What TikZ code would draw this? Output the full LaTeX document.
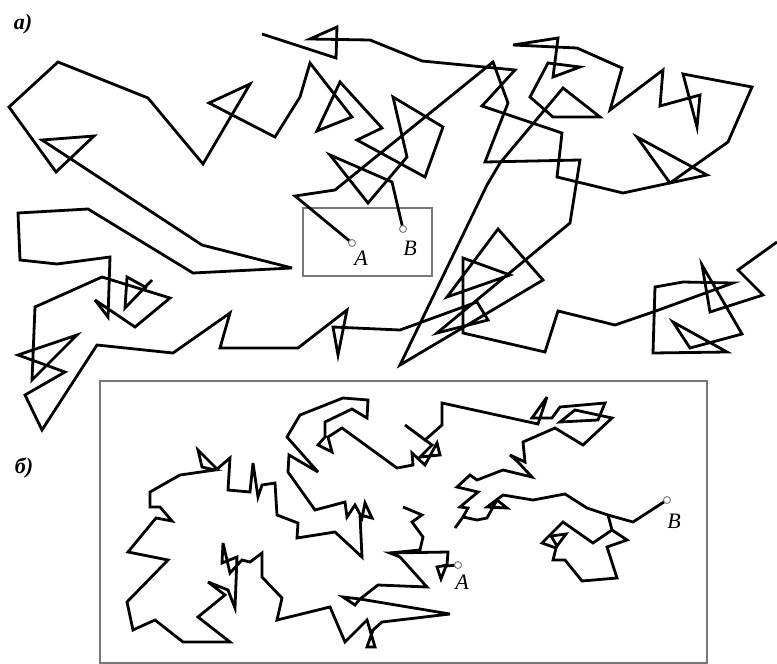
\documentclass[tikz,border=0pt]{standalone}
\usepackage{fontspec}
\setmainfont{Liberation Serif}
\usepackage{tikz}
\definecolor{framegray}{RGB}{120, 120, 120}
\tikzset{
  walk/.style={line width=2.8pt, black, line join=miter, miter limit=6},
  framebox/.style={line width=1.3pt, framegray},
  endpt/.style={circle, draw=framegray, fill=white, line width=0.9pt, minimum size=7pt, inner sep=0pt},
  ptlabel/.style={font=\fontsize{22}{25}\selectfont\itshape, inner sep=0pt},
  partlabel/.style={font=\fontsize{22}{25}\selectfont\bfseries\itshape, inner sep=0pt}
}

\begin{document}
\begin{tikzpicture}[x=1pt, y=-1pt]
    \useasboundingbox (0,0) rectangle (777,664);

    % part a
    \node[partlabel] (parta) at (23,24) {a)};
    \draw[framebox] (303,208) rectangle (432,276);
    \draw[walk] (352,243) -- (295,196) -- (335,190) -- (493,62) -- (508,103) -- (485,162) -- (580,160) -- (570,223) -- (437,333) -- (488,320) -- (477,302) -- (400,330) -- (333,327) -- (338,355) -- (347,310) -- (298,348) -- (220,348) -- (230,313) -- (173,353) -- (97,345) -- (42,430) -- (25,395) -- (65,372) -- (18,355) -- (77,335) -- (32,380) -- (35,307) -- (102,277) -- (170,298) -- (135,327) -- (95,300) -- (108,317) -- (110,257) -- (57,264) -- (20,260) -- (18,213) -- (88,209) -- (193,273) -- (292,268) -- (202,245) -- (42,140) -- (94,136) -- (56,172) -- (9,107) -- (58,62) -- (148,98) -- (203,164) -- (250,84) -- (209,103) -- (275,137) -- (300,97) -- (310,63) -- (352,117) -- (317,131) -- (340,82) -- (382,128) -- (357,140) -- (425,177) -- (443,127) -- (393,97) -- (407,157) -- (368,203) -- (330,155) -- (392,182) -- (403,229);
    \draw[walk] (262,34) -- (336,58) -- (337,27) -- (310,39) -- (370,40) -- (422,61) -- (515,70) -- (482,106) -- (562,133) -- (557,177) -- (623,193) -- (707,175) -- (637,137) -- (670,183) -- (728,142) -- (752,87) -- (683,74) -- (697,127) -- (700,95) -- (660,106) -- (663,70) -- (610,110) -- (622,68) -- (577,48) -- (513,45) -- (558,38) -- (553,77) -- (580,67) -- (548,63) -- (530,97) -- (553,117) -- (600,117) -- (563,88) -- (500,163) -- (487,185) -- (400,365) -- (543,280) -- (498,229) -- (447,297) -- (510,275) -- (463,258) -- (463,333) -- (545,352) -- (558,311) -- (615,325) -- (653,312) -- (733,283) -- (683,282) -- (655,287) -- (653,353) -- (727,352) -- (673,322) -- (690,348) -- (742,334) -- (702,265) -- (710,312) -- (763,295) -- (738,270) -- (777,242);
    \draw[walk] (152,280) -- (125,308) -- (127,277) -- (147,288);
    \node[endpt] (topA) at (352,243) {};
    \node[endpt] (topB) at (403,229) {};
    \node[ptlabel] (labtopA) at (361,258) {A};
    \node[ptlabel] (labtopB) at (410,248) {B};

    % part b
    \node[partlabel] (partb) at (24,468) {б)};
    \draw[framebox] (100,381) rectangle (707,663);
    \draw[walk] (667,500) -- (633,522) -- (608,515) -- (587,508) -- (565,494) -- (533,500) -- (503,495) -- (487,507) -- (507,508) -- (497,500) -- (487,518) -- (477,520) -- (463,517) -- (455,528);
    \draw[walk] (463,517) -- (468,508) -- (460,507) -- (478,492) -- (457,487) -- (470,475) -- (477,480) -- (503,470) -- (532,477) -- (518,462) -- (510,455) -- (525,462) -- (523,442) -- (555,428) -- (583,445) -- (612,418) -- (575,410) -- (560,422) -- (598,420) -- (605,403) -- (560,407) -- (552,418) -- (532,418) -- (547,397) -- (538,424) -- (442,403) -- (442,425) -- (425,440) -- (405,425) -- (432,445) -- (420,457) -- (440,455) -- (437,443) -- (425,465) -- (412,453) -- (413,465) -- (397,468) -- (342,428) -- (328,437) -- (332,452) -- (318,445) -- (325,437) -- (325,422) -- (352,409) -- (367,418) -- (368,400) -- (343,398) -- (300,415) -- (287,437) -- (318,472) -- (289,455) -- (288,472) -- (315,510) -- (345,502) -- (347,517) -- (355,505) -- (362,518) -- (365,503) -- (372,518) -- (360,515) -- (362,557) -- (335,532) -- (297,538) -- (298,523) -- (277,515) -- (275,483) -- (262,485) -- (258,497) -- (253,463) -- (250,492) -- (228,490) -- (230,458) -- (217,469) -- (198,450) -- (202,467) -- (215,470) -- (180,475) -- (150,492) -- (150,507) -- (160,507) -- (172,521) -- (156,518) -- (128,552) -- (168,560) -- (127,602) -- (133,630) -- (155,620) -- (183,642) -- (230,642) -- (198,617) -- (225,595) -- (208,582) -- (228,590) -- (235,608) -- (237,557) -- (222,563) -- (223,543) -- (230,573) -- (242,560) -- (250,562) -- (262,553) -- (262,577) -- (282,598) -- (277,620) -- (330,607) -- (345,642) -- (367,620) -- (375,647) -- (367,647) -- (373,630) -- (382,622) -- (450,614) -- (360,599) -- (343,597) -- (355,605) -- (360,599) -- (378,585) -- (427,587) -- (400,557) -- (390,553) -- (448,552) -- (447,565) -- (437,567) -- (441,579) -- (446,566) -- (458,565);
    \draw[walk] (390,553) -- (420,550) -- (423,537) -- (412,522) -- (422,515) -- (403,507);
    \draw[walk] (608,515) -- (612,530) -- (627,540) -- (607,547) -- (617,578) -- (582,581) -- (565,560) -- (553,560) -- (556,548) -- (542,543) -- (563,522) -- (593,543) -- (612,530);
    \draw[walk] (551,536) -- (566,534) -- (557,546) -- cycle;
    \node[endpt] (botA) at (458,565) {};
    \node[endpt] (botB) at (667,500) {};
    \node[ptlabel] (labbotA) at (462,582) {A};
    \node[ptlabel] (labbotB) at (674,521) {B};
\end{tikzpicture}
\end{document}
